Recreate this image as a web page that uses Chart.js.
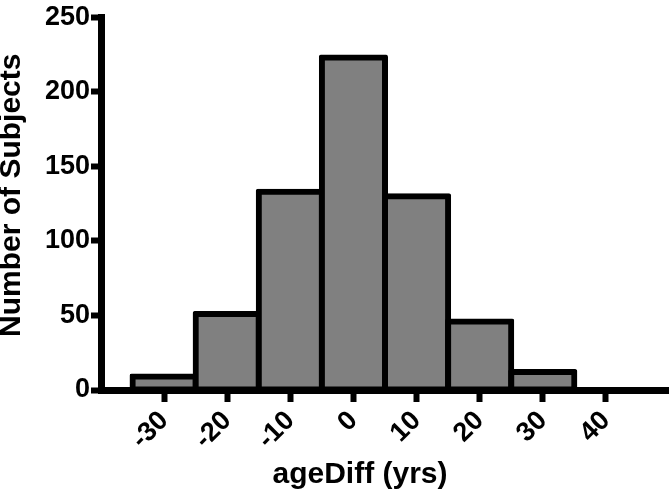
<!DOCTYPE html>
<html><head><meta charset="utf-8">
<script src="https://cdn.jsdelivr.net/npm/chart.js@4/dist/chart.umd.min.js"></script>
<style>html,body{margin:0;padding:0;background:#fff;} #wrap{width:669px;height:494px;position:relative;}</style>
</head><body><div id="wrap"><canvas id="c"></canvas></div>
<script>
const binCenters = [-30, -20, -10, 0, 10, 20, 30, 40];
const counts = [9, 51, 133, 223, 130, 46, 12, 0];
const xTickValues = [-30, -20, -10, 0, 10, 20, 30, 40];
const yTickValues = [0, 50, 100, 150, 200, 250];
const xTitle = 'ageDiff (yrs)';
const yTitle = 'Number of Subjects';

const FONT = "'Liberation Sans', Arial, Helvetica, sans-serif";

new Chart(document.getElementById('c'), {
  type: 'bar',
  data: {
    datasets: [{
      data: binCenters.map((x, i) => ({x: x, y: counts[i]})),
      backgroundColor: '#808080',
      borderColor: '#000000',
      borderWidth: 6,
      borderSkipped: false,
      inflateAmount: 3,
      borderRadius: 2,
      barPercentage: 1,
      categoryPercentage: 1,
      clip: false
    }]
  },
  options: {
    responsive: true,
    maintainAspectRatio: false,
    animation: false,
    devicePixelRatio: 1,
    layout: {padding: {top: 12, left: 0, right: 0, bottom: 0}},
    plugins: {legend: {display: false}, tooltip: {enabled: false}},
    scales: {
      x: {
        type: 'linear',
        min: -40, max: 50,
        offset: false,
        z: 1,
        afterBuildTicks: s => { s.ticks = xTickValues.map(v => ({value: v})); },
        afterFit: s => { s.height = 104; },
        grid: {display: true, drawOnChartArea: false, drawTicks: true, tickLength: 12, tickWidth: 6, tickColor: '#000', offset: false},
        border: {display: true, width: 7, color: '#000'},
        ticks: {
          autoSkip: false, maxRotation: 45, minRotation: 45, padding: 3,
          color: '#000', font: {family: FONT, size: 27, weight: 'bold'}
        },
        title: {display: true, text: xTitle + '      ', color: '#000',
          font: {family: FONT, size: 30, weight: 'bold', lineHeight: 1.2}, padding: {top: 0, bottom: 1}}
      },
      y: {
        type: 'linear',
        min: 0, max: 250,
        afterBuildTicks: s => { s.ticks = yTickValues.map(v => ({value: v})); },
        afterFit: s => { s.width = 101; },
        grid: {display: true, drawOnChartArea: false, drawTicks: true, tickLength: 10, tickWidth: 6, tickColor: '#000'},
        border: {display: true, width: 7, color: '#000'},
        ticks: {padding: 1, color: '#000', font: {family: FONT, size: 27, weight: 'bold'}},
        title: {display: true, text: '  ' + yTitle, color: '#000',
          font: {family: FONT, size: 30, weight: 'bold', lineHeight: 0.8}, padding: {top: 0, bottom: 0}}
      }
    }
  }
});
</script>
</body></html>
